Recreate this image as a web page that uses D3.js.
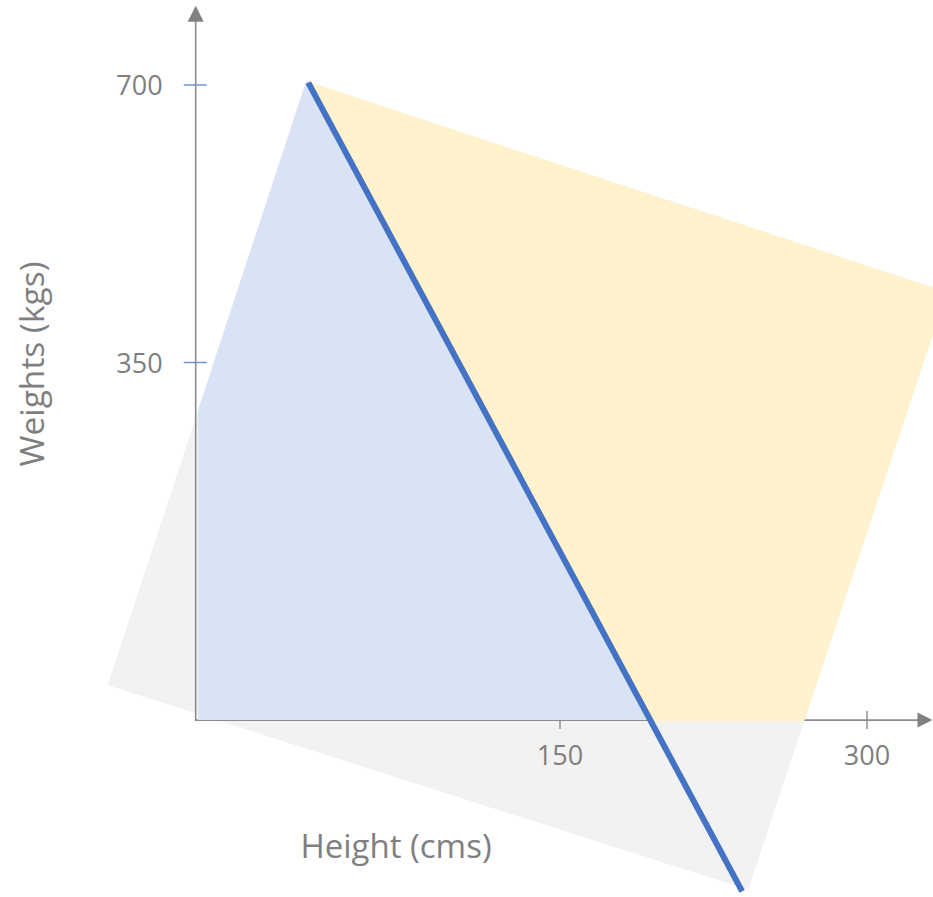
<!DOCTYPE html>
<html>
<head>
<meta charset="utf-8">
<script src="https://cdn.jsdelivr.net/npm/d3@7/dist/d3.min.js"></script>
<style>
  html, body { margin: 0; padding: 0; background: #ffffff; }
  svg { display: block; }
  text { font-family: "Open Sans", "Liberation Sans", sans-serif; fill: #7f7f7f; }
</style>
</head>
<body>
<div id="chart"></div>
<script>
// Tick values shown on each axis
const xTicks = [150, 300];
const yTicks = [350, 700];

// Axis extents (origin and arrow tips), in data units
const xAxisRange = [-28, 332];
const yAxisRange = [-101, 800];

// Corners of the tilted square region (height, weight)
const squareCorners = [[-71, -57], [26, 705], [339, 439], [242, -315]];

// Dividing line between the two shaded regions
const dividerLine = [[27, 703], [239, -317]];

const xLabel = "Height (cms)";
const yLabel = "Weights (kgs)";

const width = 933, height = 897;

const x = d3.scaleLinear().domain([150, 300]).range([560, 867]);
const y = d3.scaleLinear().domain([350, 700]).range([362.5, 85]);

const svg = d3.select("#chart").append("svg")
  .attr("width", width).attr("height", height);

const toPx = p => [x(p[0]), y(p[1])];
const square = squareCorners.map(toPx);
const [l1, l2] = dividerLine.map(toPx);
const x0 = x(xAxisRange[0]), y0 = y(yAxisRange[0]);

// Sutherland–Hodgman clipping of a polygon against a half-plane f(p) >= 0
function clipHalf(poly, f) {
  const out = [];
  for (let i = 0; i < poly.length; i++) {
    const a = poly[i], b = poly[(i + 1) % poly.length];
    const fa = f(a), fb = f(b);
    if (fa >= 0) out.push(a);
    if ((fa >= 0) !== (fb >= 0)) {
      const t = fa / (fa - fb);
      out.push([a[0] + t * (b[0] - a[0]), a[1] + t * (b[1] - a[1])]);
    }
  }
  return out;
}
// Signed side of point p relative to the directed segment a -> b
const sideOf = (a, b) => p => (b[0] - a[0]) * (p[1] - a[1]) - (b[1] - a[1]) * (p[0] - a[0]);

// First-quadrant area bounded by three sides of the square
function quadrantInSquare(left, bottom) {
  let poly = [[left, 0], [width + 50, 0], [width + 50, bottom], [left, bottom]];
  const [A, B, C, D] = square;
  poly = clipHalf(poly, sideOf(A, B));
  poly = clipHalf(poly, sideOf(B, C));
  poly = clipHalf(poly, sideOf(C, D));
  return poly;
}

const lineSide = sideOf(l1, l2);
const blue = clipHalf(quadrantInSquare(x0 + 2.5, y0), p => lineSide(p));
const yellow = clipHalf(quadrantInSquare(x0, y0 + 1.5), p => -lineSide(p));

const line = d3.line();

// Background tilted square
svg.append("path").attr("d", line(square) + "Z").attr("fill", "#f2f2f2");

// Axes with arrowheads
const axisColor = "#8c8c8c";
const xTip = x(xAxisRange[1]), yTip = y(yAxisRange[1]);
svg.append("line")
  .attr("x1", x0).attr("y1", y0).attr("x2", xTip - 10).attr("y2", y0)
  .attr("stroke", axisColor).attr("stroke-width", 1.6);
svg.append("path")
  .attr("d", line([[xTip, y0], [xTip - 15, y0 - 7.5], [xTip - 15, y0 + 7.5]]) + "Z")
  .attr("fill", "#808080");
svg.append("line")
  .attr("x1", x0).attr("y1", y0 + 0.8).attr("x2", x0).attr("y2", yTip + 10)
  .attr("stroke", axisColor).attr("stroke-width", 1.6);
svg.append("path")
  .attr("d", line([[x0, yTip], [x0 - 8, yTip + 16], [x0 + 8, yTip + 16]]) + "Z")
  .attr("fill", "#808080");

// Tick marks
svg.selectAll(".xtick").data(xTicks).join("line")
  .attr("class", "xtick")
  .attr("x1", d => x(d)).attr("x2", d => x(d))
  .attr("y1", y0 - 9).attr("y2", y0 + 9)
  .attr("stroke", axisColor).attr("stroke-width", 1.4);
svg.selectAll(".ytick").data(yTicks).join("line")
  .attr("class", "ytick")
  .attr("y1", d => y(d)).attr("y2", d => y(d))
  .attr("x1", x0 - 12).attr("x2", x0 + 11)
  .attr("stroke", "#6d8fd2").attr("stroke-width", 1.4);

// Shaded regions on either side of the divider
svg.append("path").attr("d", line(blue) + "Z").attr("fill", "#dae3f3");
svg.append("path").attr("d", line(yellow) + "Z").attr("fill", "#fff2cc");

// Divider line
svg.append("path").attr("d", line([l1, l2]))
  .attr("stroke", "#4472c4").attr("stroke-width", 6).attr("fill", "none");

// Tick labels
svg.selectAll(".xlab").data(xTicks).join("text")
  .attr("class", "xlab")
  .attr("x", d => x(d)).attr("y", y0 + 45)
  .attr("text-anchor", "middle").attr("font-size", 27)
  .text(d => d);
svg.selectAll(".ylab").data(yTicks).join("text")
  .attr("class", "ylab")
  .attr("x", x0 - 33).attr("y", d => y(d) + 10)
  .attr("text-anchor", "end").attr("font-size", 27)
  .text(d => d);

// Axis titles
svg.append("text")
  .attr("x", 396).attr("y", 858)
  .attr("text-anchor", "middle").attr("font-size", 33)
  .text(xLabel);
svg.append("text")
  .attr("transform", "translate(44,364) rotate(-90)")
  .attr("text-anchor", "middle").attr("font-size", 33.5)
  .text(yLabel);
</script>
</body>
</html>
